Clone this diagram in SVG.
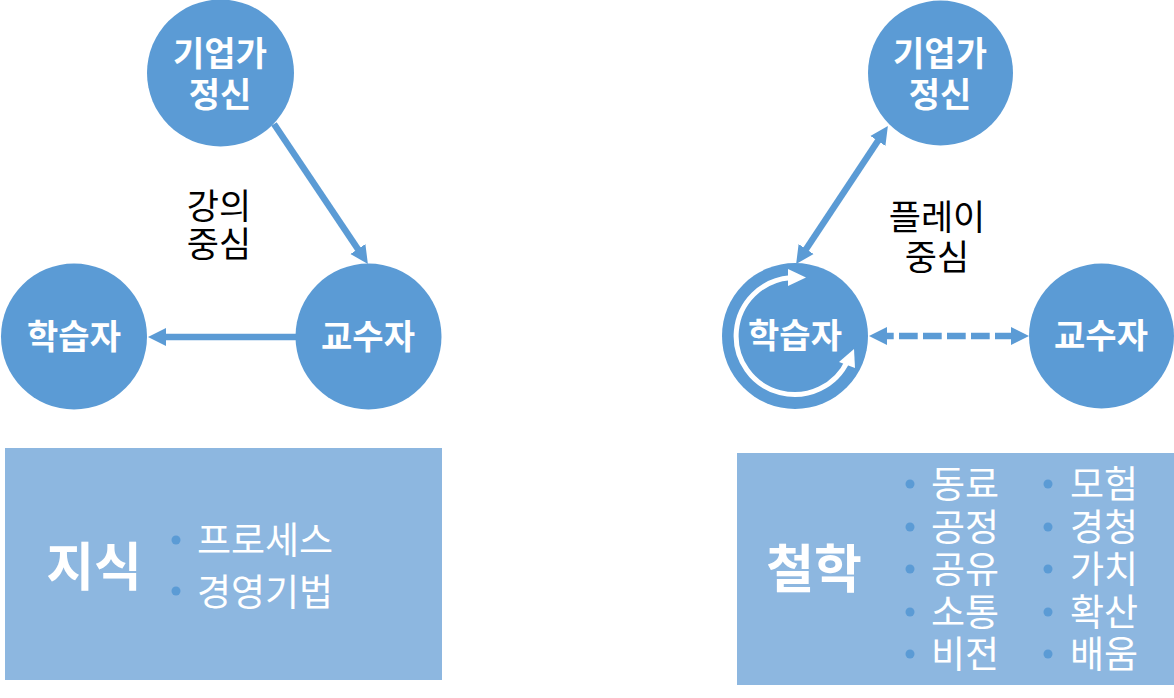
<svg xmlns="http://www.w3.org/2000/svg" width="1174" height="698" viewBox="0 0 1174 698">
<style>
text{font-family:"Noto Sans CJK KR","Noto Sans",sans-serif;text-anchor:middle}
.n{fill:#5b9bd5}
.t{font-size:34px;font-weight:700;fill:#fff}
.s{font-size:35px;fill:#000}
.b{fill:#8db7e0}
.h{font-size:52px;font-weight:700;fill:#fff}
.l{font-size:37px;fill:#fff}
.d{fill:#5b9bd5}
.c{stroke:#5b9bd5;stroke-width:6.500;fill:none}
.w{stroke:#fff;stroke-width:5;fill:none}
</style>
<defs>
<marker id="a" markerUnits="userSpaceOnUse" markerWidth="20" markerHeight="20" refX="2" refY="10" orient="auto-start-reverse"><path d="M0 1L18 10L0 19Z" fill="#5b9bd5"/></marker>
</defs>
<g id="conn">
<path class="c" d="M274 124L359 250.700" marker-end="url(#a)"/>
<path class="c" d="M296 337H164" marker-end="url(#a)"/>
<path class="c" d="M879 139.300L805 250.700" marker-start="url(#a)" marker-end="url(#a)"/>
<path class="c" d="M885 336H1013" stroke-dasharray="18.700 5.300" stroke-dashoffset="10" marker-start="url(#a)" marker-end="url(#a)"/>
</g>
<g id="n1"><circle class="n" cx="220.500" cy="73" r="73.500"/><text class="t" x="220" y="66">기업가</text><text class="t" x="220" y="107">정신</text></g>
<g id="n2"><circle class="n" cx="74" cy="336.500" r="73"/><text class="t" x="74" y="349">학습자</text></g>
<g id="n3"><circle class="n" cx="368.500" cy="336.500" r="73"/><text class="t" x="368" y="349">교수자</text></g>
<g id="n4"><circle class="n" cx="940.500" cy="73" r="72.500"/><text class="t" x="940" y="66">기업가</text><text class="t" x="940" y="107">정신</text></g>
<g id="n5"><circle class="n" cx="795" cy="336" r="73"/>
<path class="w" d="M790 277.700A58.500 58.500 0 1 0 848 360"/>
<path d="M788 269L806 277.500L788 286Z" fill="#fff"/>
<path d="M854 349L855 368L839 362Z" fill="#fff"/>
<text class="t" x="795" y="348">학습자</text></g>
<g id="n6"><circle class="n" cx="1101.500" cy="336" r="72.500"/><text class="t" x="1101" y="348">교수자</text></g>
<g id="lab1"><text class="s" x="219" y="219">강의</text><text class="s" x="219" y="257">중심</text></g>
<g id="lab2"><text class="s" x="937" y="230">플레이</text><text class="s" x="937" y="270">중심</text></g>
<g id="box1"><rect class="b" x="5" y="448" width="437" height="232"/>
<text class="h" x="94" y="586">지식</text>
<circle class="d" cx="176" cy="540" r="4.500"/><circle class="d" cx="176" cy="591" r="4.500"/>
<text class="l" x="265" y="554">프로세스</text><text class="l" x="265" y="606">경영기법</text></g>
<g id="box2"><rect class="b" x="737" y="453" width="437" height="232"/>
<text class="h" x="814" y="588">철학</text>
<g class="d"><circle cx="910" cy="484" r="4.500"/><circle cx="910" cy="527" r="4.500"/><circle cx="910" cy="569" r="4.500"/><circle cx="910" cy="612" r="4.500"/><circle cx="910" cy="654" r="4.500"/>
<circle cx="1048" cy="484" r="4.500"/><circle cx="1048" cy="527" r="4.500"/><circle cx="1048" cy="569" r="4.500"/><circle cx="1048" cy="612" r="4.500"/><circle cx="1048" cy="654" r="4.500"/></g>
<text class="l" x="965" y="498">동료</text><text class="l" x="965" y="541">공정</text><text class="l" x="965" y="583">공유</text><text class="l" x="965" y="626">소통</text><text class="l" x="965" y="668">비전</text>
<text class="l" x="1104" y="498">모험</text><text class="l" x="1104" y="541">경청</text><text class="l" x="1104" y="583">가치</text><text class="l" x="1104" y="626">확산</text><text class="l" x="1104" y="668">배움</text></g>
</svg>
